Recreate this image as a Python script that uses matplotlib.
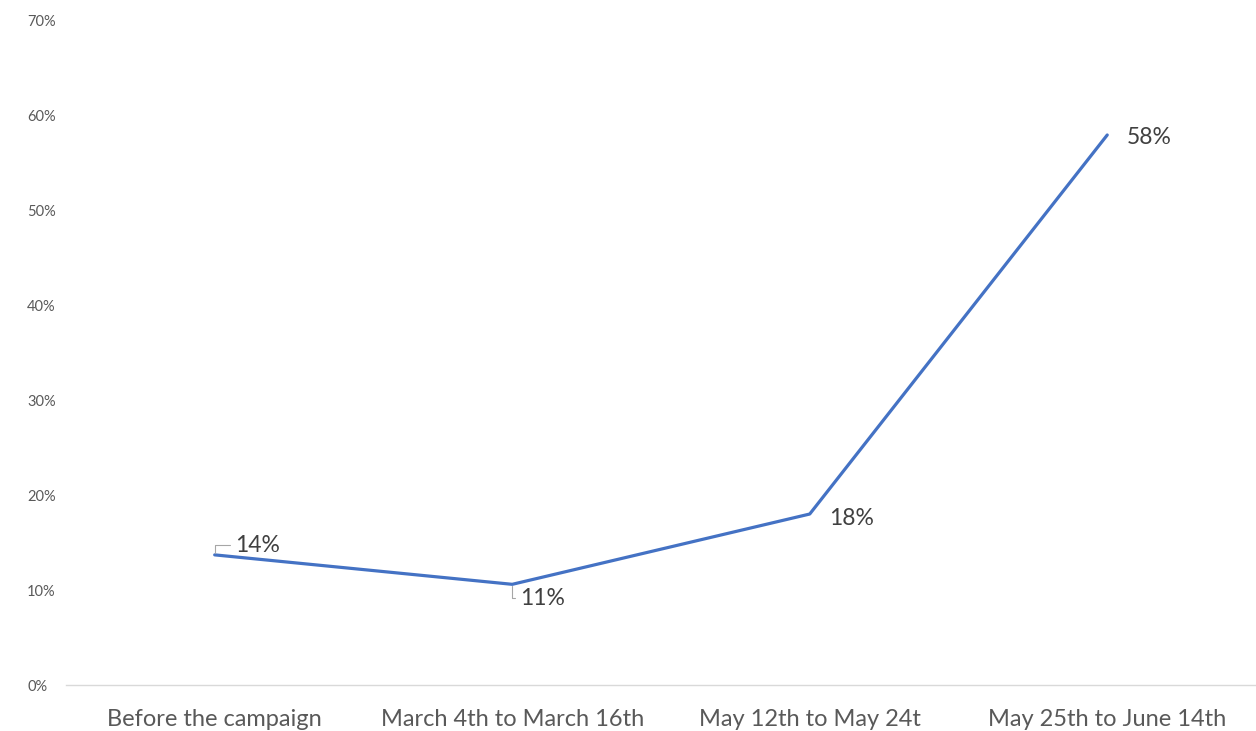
import numpy as np
import matplotlib.pyplot as plt
from matplotlib.ticker import PercentFormatter

# data
periods = ["Before the campaign", "March 4th to March 16th",
           "May 12th to May 24t", "May 25th to June 14th"]
share = [0.137, 0.106, 0.18, 0.579]
labels = ["14%", "11%", "18%", "58%"]
yticks = [0, 0.1, 0.2, 0.3, 0.4, 0.5, 0.6, 0.7]

# label offsets in points (dx, dy, horizontal alignment)
offsets = [(15, 7, "left"), (6, -10, "left"), (14, -3, "left"), (14, -2, "left")]
leader = [True, True, False, False]

plt.rcParams['font.family'] = ['Lato', 'DejaVu Sans']

fig = plt.figure(figsize=(12.56, 7.31), dpi=100)
ax = fig.add_axes([0.0525, 0.0629, 0.9475, 0.9097])

x = np.arange(len(periods))
ax.plot(x, share, color="#4472C4", lw=2.3, solid_capstyle="round")

for i, (v, lab) in enumerate(zip(share, labels)):
    dx, dy, ha = offsets[i]
    if leader[i]:
        ax.annotate(lab, (x[i], v), xytext=(dx, dy), textcoords="offset points",
                    ha=ha, va="center", fontsize=16.5, color="#404040",
                    arrowprops=dict(arrowstyle="-", color="#A6A6A6", lw=0.8,
                                    shrinkA=2, shrinkB=1,
                                    connectionstyle="angle,angleA=0,angleB=90,rad=0"))
    else:
        ax.annotate(lab, (x[i], v), xytext=(dx, dy), textcoords="offset points",
                    ha=ha, va="center", fontsize=16.5, color="#404040")

ax.set_xlim(-0.5, 3.5)
ax.set_ylim(0, 0.7)
ax.set_xticks(x)
ax.set_xticklabels(periods, fontsize=17, color="#595959")
ax.set_yticks(yticks)
ax.yaxis.set_major_formatter(PercentFormatter(1.0, decimals=0))
ax.tick_params(axis="y", labelsize=10.5, colors="#595959", length=0, pad=28)
for t in ax.get_yticklabels():
    t.set_horizontalalignment("left")
ax.tick_params(axis="x", length=0, pad=17)

for s in ["top", "right", "left"]:
    ax.spines[s].set_visible(False)
ax.spines["bottom"].set_color("#D9D9D9")
ax.spines["bottom"].set_linewidth(1.0)

fig.savefig("out.png", dpi=100)
